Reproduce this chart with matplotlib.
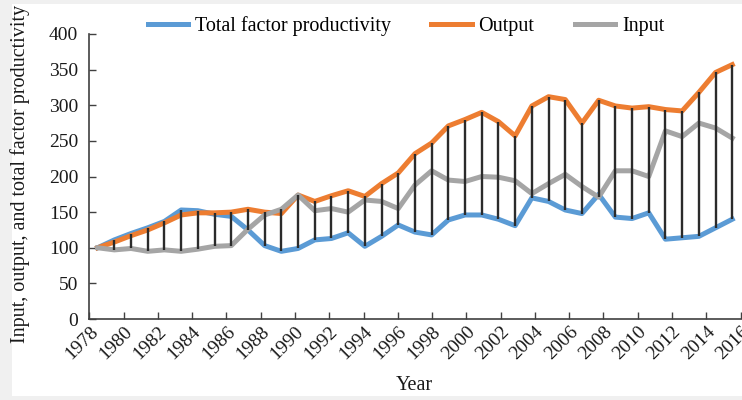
import numpy as np
import matplotlib
matplotlib.use("Agg")
import matplotlib.pyplot as plt
from matplotlib.patches import Rectangle

plt.rcParams['font.family'] = ['Liberation Serif', 'DejaVu Serif']

# data (index, 1978 = 100)
years = list(range(1978, 2017))
tfp = [100, 111, 120, 128, 137, 153, 152, 147, 144, 125, 103, 95, 99,
       111, 113, 121, 102, 116, 132, 122, 118, 139, 146, 146, 140, 131,
       170, 165, 153, 148, 175, 143, 141, 149, 112, 114, 116, 128, 140]
output = [100, 108, 117, 125, 135, 146, 149, 149, 150, 154, 150, 148, 174,
          165, 173, 180, 172, 190, 205, 232, 247, 271, 280, 290, 277, 257,
          299, 312, 308, 275, 307, 299, 296, 298, 294, 292, 318, 346, 357]
inputs = [100, 97, 99, 95, 97, 95, 98, 102, 103, 126, 146, 154, 174,
          152, 155, 150, 167, 165, 155, 188, 208, 195, 193, 200, 199, 194,
          176, 190, 203, 186, 171, 208, 208, 200, 264, 256, 275, 268, 254]
tick_labels = [str(y) for y in range(1978, 2017, 2)]

fig = plt.figure(figsize=(7.42, 4.0), dpi=100)
fig.patch.set_facecolor('#f0f0f0')
fig.patches.append(Rectangle((12 / 742, 4 / 400), 1, 392 / 400, transform=fig.transFigure,
                             facecolor='white', edgecolor='none', zorder=-10))

ax = fig.add_axes([89.3 / 742, 81 / 400, 651.3 / 742, 285 / 400])
ax.set_zorder(1)
ax.set_facecolor('none')

ax.plot(years, tfp, color='#5b9bd5', lw=3.6, label='Total factor productivity', zorder=2)
ax.plot(years, output, color='#ed7d31', lw=3.6, label='Output', zorder=3)
ax.plot(years, inputs, color='#a5a5a5', lw=3.6, label='Input', zorder=4)

# high-low lines between the three series
hi = np.max([tfp, output, inputs], axis=0)
lo = np.min([tfp, output, inputs], axis=0)
ax.vlines(years, lo, hi, colors='#2b2b2b', lw=1.7, zorder=5)

ax.set_xlim(1977.5, 2016.5)
ax.set_ylim(0, 400)
ax.set_yticks(range(0, 401, 50))
ax.set_xticks(np.linspace(1977.5, 2016.5, len(tick_labels)))
ax.set_xticklabels(tick_labels, rotation=45, ha='right', va='top', rotation_mode='anchor')
ax.tick_params(direction='in', length=5, width=1, colors='#404040', labelcolor='#1a1a1a',
               labelsize=14)
ax.tick_params(axis='x', pad=3)
ax.tick_params(axis='y', pad=8)
for s in ['top', 'right']:
    ax.spines[s].set_visible(False)
for s in ['left', 'bottom']:
    ax.spines[s].set_color('#404040')
    ax.spines[s].set_linewidth(1.2)

fig.text(20 / 742, 1 - 174 / 400, 'Input, output, and total factor productivity', rotation=90,
         ha='center', va='center', fontsize=14.5, color='#1a1a1a')
fig.text(414 / 742, 1 - 386 / 400, 'Year', ha='center', va='center', fontsize=14.5, color='#1a1a1a')

fig.legend(loc='center', bbox_to_anchor=(406 / 742, 1 - 26 / 400), ncol=3, frameon=False,
           fontsize=14.5, handlelength=2.0, columnspacing=2.0, handletextpad=0.35)

fig.savefig('out.png', dpi=100, facecolor=fig.get_facecolor())
